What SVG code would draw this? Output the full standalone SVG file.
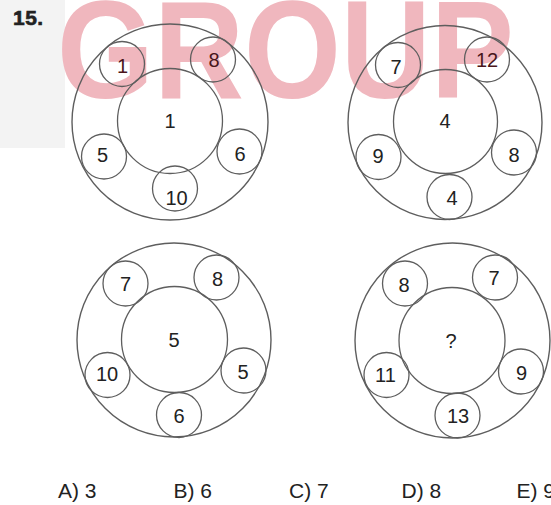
<svg xmlns="http://www.w3.org/2000/svg" width="551" height="505" viewBox="0 0 551 505">
<style>
.o{fill:none;stroke:#5e5e5e;stroke-width:1.4}
.s{fill:none;stroke:#5e5e5e;stroke-width:1.3}
.t{font-family:"Liberation Sans",Arial,sans-serif;font-size:20px;fill:#222;text-anchor:middle}
.r{fill:#4a161b}
.a{font-family:"Liberation Sans",Arial,sans-serif;font-size:21px;fill:#222}
.w{font-family:"Liberation Sans",Arial,sans-serif;font-size:140px;font-weight:bold;fill:#f0b7be}
</style>
<rect width="551" height="505" fill="#fff"/>
<rect x="0" y="0" width="65" height="148" fill="#f3f3f3"/>
<g id="watermark"><text class="w" transform="translate(57,98) scale(0.89,1)">GROUP</text></g>
<text id="q" x="13" y="25" style="font-family:'Liberation Sans',Arial,sans-serif;font-size:21px;font-weight:bold;fill:#222;stroke:#222;stroke-width:0.6;letter-spacing:0.5px">15.</text>

<g id="d1">
<circle class="o" cx="170" cy="122" r="98"/>
<circle class="s" cx="170" cy="121" r="52.5"/>
<circle class="s" cx="122" cy="64" r="22.5"/>
<circle class="s" cx="213" cy="59.5" r="22.5"/>
<circle class="s" cx="104" cy="156.5" r="22.5"/>
<circle class="s" cx="239.5" cy="151.5" r="22.5"/>
<circle class="s" cx="175" cy="188.5" r="22.5"/>
<text class="t r" x="122.5" y="73">1</text>
<text class="t r" x="214" y="67">8</text>
<text class="t" x="170" y="128">1</text>
<text class="t" x="102.5" y="162">5</text>
<text class="t" x="240" y="161">6</text>
<text class="t" x="176.5" y="204.5">10</text>
</g>

<g id="d2">
<circle class="o" cx="445" cy="122.5" r="97"/>
<circle class="s" cx="445.5" cy="121.5" r="52"/>
<circle class="s" cx="398" cy="65" r="22.5"/>
<circle class="s" cx="487" cy="59.5" r="22.5"/>
<circle class="s" cx="378.5" cy="157" r="22.5"/>
<circle class="s" cx="514" cy="152.5" r="22.5"/>
<circle class="s" cx="449.5" cy="197" r="22.5"/>
<text class="t" x="396" y="74">7</text>
<text class="t r" x="487" y="67">12</text>
<text class="t" x="445" y="128">4</text>
<text class="t" x="378" y="163">9</text>
<text class="t" x="514" y="162">8</text>
<text class="t" x="452" y="205">4</text>
</g>

<g id="d3">
<circle class="o" cx="174" cy="340" r="97"/>
<circle class="s" cx="174.5" cy="339.5" r="53"/>
<circle class="s" cx="125.5" cy="283.5" r="22.5"/>
<circle class="s" cx="216.5" cy="277.5" r="22.5"/>
<circle class="s" cx="107.5" cy="375" r="22.5"/>
<circle class="s" cx="243.5" cy="370.5" r="22.5"/>
<circle class="s" cx="179" cy="415" r="22.5"/>
<text class="t" x="125.5" y="291">7</text>
<text class="t" x="217.5" y="286">8</text>
<text class="t" x="174" y="347">5</text>
<text class="t" x="107" y="381">10</text>
<text class="t" x="243" y="379">5</text>
<text class="t" x="179" y="423">6</text>
</g>

<g id="d4">
<circle class="o" cx="452.5" cy="340.5" r="97.5"/>
<circle class="s" cx="452" cy="340.5" r="53"/>
<circle class="s" cx="405" cy="283.5" r="22.5"/>
<circle class="s" cx="495" cy="277.5" r="22.5"/>
<circle class="s" cx="386.5" cy="375" r="22.5"/>
<circle class="s" cx="521" cy="371.5" r="22.5"/>
<circle class="s" cx="457.5" cy="415.5" r="22.5"/>
<text class="t" x="404" y="292">8</text>
<text class="t" x="494" y="285">7</text>
<text class="t" x="451" y="348">?</text>
<text class="t" x="385.5" y="382">11</text>
<text class="t" x="521.5" y="380">9</text>
<text class="t" x="458" y="423">13</text>
</g>

<g id="answers">
<text class="a" x="58" y="498">A) 3</text>
<text class="a" x="173.5" y="498">B) 6</text>
<text class="a" x="289" y="498">C) 7</text>
<text class="a" x="401.5" y="498">D) 8</text>
<text class="a" x="516.5" y="498">E) 9</text>
</g>
</svg>
